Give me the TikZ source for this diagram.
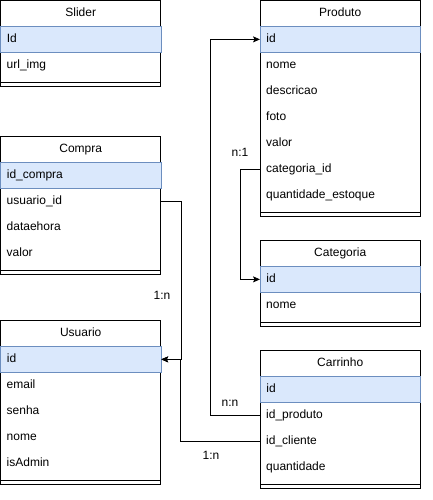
\documentclass[tikz,border=0pt]{standalone}
\usepackage{fontspec}
\setmainfont{Liberation Sans}
\usetikzlibrary{arrows.meta}
\definecolor{keyfill}{HTML}{DAE8FC}
\definecolor{keydraw}{HTML}{6C8EBF}
\tikzset{
  frame/.style={draw=black, line width=0.75pt, fill=white},
  ttl/.style={anchor=north west, minimum width=160pt, minimum height=26pt, inner sep=0pt, text height=8.6pt, text depth=2.6pt, font=\fontsize{12}{14}\selectfont},
  row/.style={anchor=north west, text width=148pt, inner xsep=6pt, inner ysep=0pt, minimum height=26pt, text height=8.6pt, text depth=2.6pt, align=left, font=\fontsize{12}{14}\selectfont},
  keyrow/.style={row, fill=keyfill, draw=keydraw, line width=0.75pt},
  conn/.style={draw=black, line width=0.75pt},
  arr/.style={conn, -{Stealth[length=7pt, width=6pt, inset=1.5pt]}},
  rel/.style={font=\fontsize{12}{14}\selectfont, inner sep=0pt},
}
\newcommand{\tablebox}[3]{% x, y top, bottom
  \draw[frame] (#1,#2) rectangle (#1+160,#3);
  \draw[line width=0.75pt] (#1,#2+26) -- (#1+160,#2+26);
  \draw[line width=0.75pt] (#1,#3-4) -- (#1+160,#3-4);
}
\begin{document}
\begin{tikzpicture}[x=1pt, y=-1pt]
\useasboundingbox (0,0) rectangle (432,500);

% Slider
\tablebox{0.5}{0.5}{86}
\node[ttl] (s-t) at (0.5,0.5) {Slider};
\node[keyrow] (s-id) at (0.5,26) {Id};
\node[row] (s-url) at (0.5,52) {url\_img};

% Produto
\tablebox{260}{0.5}{216}
\node[ttl] (p-t) at (260,0.5) {Produto};
\node[keyrow] (p-id) at (260,26) {id};
\node[row] (p-nome) at (260,52) {nome};
\node[row] (p-desc) at (260,78) {descricao};
\node[row] (p-foto) at (260,104) {foto};
\node[row] (p-valor) at (260,130) {valor};
\node[row] (p-cat) at (260,156) {categoria\_id};
\node[row] (p-qtd) at (260,182) {quantidade\_estoque};

% Compra
\tablebox{0.5}{136}{274}
\node[ttl] (co-t) at (0.5,136) {Compra};
\node[keyrow] (co-id) at (0.5,162) {id\_compra};
\node[row] (co-uid) at (0.5,188) {usuario\_id};
\node[row] (co-dh) at (0.5,214) {dataehora};
\node[row] (co-val) at (0.5,240) {valor};

% Categoria
\tablebox{260}{240}{326}
\node[ttl] (ca-t) at (260,240) {Categoria};
\node[keyrow] (ca-id) at (260,266) {id};
\node[row] (ca-nome) at (260,292) {nome};

% Usuario
\tablebox{0.5}{320}{484}
\node[ttl] (u-t) at (0.5,320) {Usuario};
\node[keyrow] (u-id) at (0.5,346) {id};
\node[row] (u-email) at (0.5,372) {email};
\node[row] (u-senha) at (0.5,398) {senha};
\node[row] (u-nome) at (0.5,424) {nome};
\node[row] (u-adm) at (0.5,450) {isAdmin};

% Carrinho
\tablebox{260}{350}{488}
\node[ttl] (c-t) at (260,350) {Carrinho};
\node[keyrow] (c-id) at (260,376) {id};
\node[row] (c-prod) at (260,402) {id\_produto};
\node[row] (c-cli) at (260,428) {id\_cliente};
\node[row] (c-qtd) at (260,454) {quantidade};

% connectors
\draw[arr] (c-prod.west) -- ++(-50,0) |- (p-id.west);
\draw[arr] (p-cat.west) -- ++(-20,0) |- (ca-id.west);
\draw[arr] (co-uid.east) -- ++(20,0) |- (u-id.east);
\draw[arr] (c-cli.west) -- ++(-80,0) |- (u-id.east);

% labels
\node[rel] (l-nn) at (230,403) {n:n};
\node[rel] (l-n1) at (240,152) {n:1};
\node[rel] (l-1n-a) at (162,295) {1:n};
\node[rel] (l-1n-b) at (211,455) {1:n};
\end{tikzpicture}
\end{document}
